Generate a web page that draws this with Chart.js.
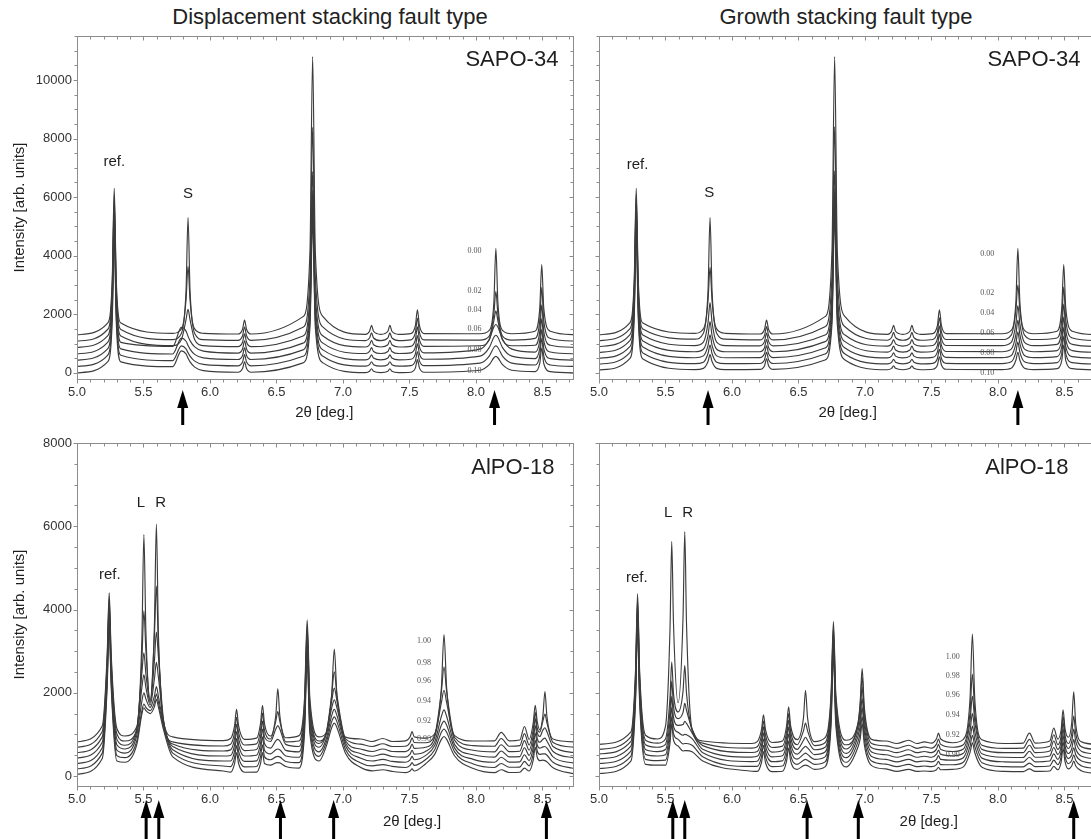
<!DOCTYPE html>
<html>
<head>
<meta charset="utf-8">
<script src="https://cdn.jsdelivr.net/npm/chart.js@4.4.1/dist/chart.umd.min.js"></script>
<style>
  html, body { margin: 0; padding: 0; background: #fff; overflow: hidden; width: 1091px; height: 839px; position: relative; }
  canvas { position: absolute; }
  .title { position: absolute; top: 4px; font: 22px 'Liberation Sans', Arial, sans-serif; color: #222; white-space: nowrap; transform: translateX(-50%); }
</style>
</head>
<body>
<div class="title" style="left:330px">Displacement stacking fault type</div>
<div class="title" style="left:846px">Growth stacking fault type</div>
<canvas id="tl" width="590" height="432" style="left:0;top:0"></canvas>
<canvas id="tr" width="526" height="432" style="left:574px;top:0"></canvas>
<canvas id="bl" width="590" height="429" style="left:0;top:410px"></canvas>
<canvas id="br" width="526" height="429" style="left:574px;top:410px"></canvas>
<script>
// ---- data (2theta in deg, intensity in arb. units, each curve above its own baseline) ----
const xTicks = [5.0, 5.5, 6.0, 6.5, 7.0, 7.5, 8.0, 8.5];
const sapoYTicks = [0, 2000, 4000, 6000, 8000, 10000];
const alpoYTicks = [0, 2000, 4000, 6000, 8000];

const sapoLabels = ['0.00', '0.02', '0.04', '0.06', '0.08', '0.10'];
const alpoLabels = ['1.00', '0.98', '0.96', '0.94', '0.92', '0.90'];

// SAPO-34
const sapoX = [5.00, 5.23, 5.265, 5.28, 5.295, 5.33, 5.72, 5.785, 5.82, 5.835, 5.85, 5.885, 5.95,
  6.21, 6.245, 6.26, 6.275, 6.31, 6.70, 6.752, 6.772, 6.792, 6.85, 7.17, 7.20, 7.215, 7.23, 7.285,
  7.338, 7.353, 7.368, 7.42, 7.51, 7.545, 7.56, 7.575, 7.61, 8.03, 8.10, 8.135, 8.15, 8.165, 8.20, 8.27,
  8.445, 8.48, 8.495, 8.51, 8.56, 8.75];

const sapoDispBase = [1300, 1085, 870, 650, 435, 220, 0];
const sapoDisp1 = [0, 400,1900,5000,1900,400, 50,200,1520,4000,1520,200,50, 25,190,500,190,25, 620,2850,9500,2850,620, 16,120,320,120,16, 120,320,120,16, 40,320,850,320,40, 35,150,1120,2950,1120,150,35, 120,910,2400,910,120, 0];
const sapoDisp2 = [0, 395,1880,4950,1880,395, 50,255,1400,2550,1400,255,50, 24,180,480,180,24, 475,2190,7300,2190,475, 14,105,280,105,14, 105,280,105,14, 40,300,780,300,40, 34,170,935,1700,935,170,34, 90,700,1830,700,90, 0];
const sapoDisp3 = [0, 390,1860,4900,1860,390, 60,260,950,1300,950,260,60, 23,175,460,175,23, 390,1800,6000,1800,390, 12,90,240,90,12, 90,240,90,12, 35,265,700,265,35, 55,250,910,1250,910,250,55, 72,550,1450,550,72, 0];
const sapoDisp4 = [0, 390,1840,4850,1840,390, 250,900,775,600,450,235,90, 22,165,440,165,22, 365,1680,5600,1680,365, 10,80,210,80,10, 80,210,80,10, 30,235,620,235,30, 160,500,920,1000,920,500,160, 60,455,1200,455,60, 0];
const sapoDisp5 = [0, 385,1820,4800,1820,385, 210,750,645,500,375,195,75, 21,160,420,160,21, 350,1620,5400,1620,350, 9,70,180,70,9, 70,180,70,9, 28,215,560,215,28, 135,425,780,850,780,425,135, 52,400,1050,400,52, 0];
const sapoDisp6 = [0, 380,1800,4750,1800,380, 195,700,600,470,350,180,70, 20,150,400,150,20, 345,1590,5300,1590,345, 8,60,160,60,8, 60,160,60,8, 25,190,500,190,25, 110,350,645,700,645,350,110, 48,360,950,360,48, 0];
const sapoDisp7 = [0, 375,1790,4700,1790,375, 210,750,645,500,375,195,75, 19,145,380,145,19, 340,1560,5200,1560,340, 7,53,140,53,7, 53,140,53,7, 22,170,450,170,22, 90,280,515,560,515,280,90, 42,320,850,320,42, 0];

const sapoGrowBase = [1300, 1100, 900, 700, 500, 300, 100];
const sapoGrow1 = [0, 400,1900,5000,1900,400, 50,200,1520,4000,1520,200,50, 25,190,500,190,25, 620,2850,9500,2850,620, 16,120,320,120,16, 120,320,120,16, 40,320,850,320,40, 35,150,1120,2950,1120,150,35, 120,910,2400,910,120, 0];
const sapoGrow2 = [0, 395,1880,4950,1880,395, 50,250,1375,2500,1375,250,50, 24,180,480,180,24, 475,2190,7300,2190,475, 14,105,280,105,14, 105,280,105,14, 40,300,780,300,40, 38,190,1045,1900,1045,190,38, 90,700,1830,700,90, 0];
const sapoGrow3 = [0, 390,1860,4900,1860,390, 30,150,825,1500,825,150,30, 23,175,460,175,23, 390,1800,6000,1800,390, 12,90,240,90,12, 90,240,90,12, 35,265,700,265,35, 28,140,770,1400,770,140,28, 72,550,1450,550,72, 0];
const sapoGrow4 = [0, 390,1840,4850,1840,390, 21,105,580,1050,580,105,21, 22,165,440,165,22, 365,1680,5600,1680,365, 10,80,210,80,10, 80,210,80,10, 30,235,620,235,30, 22,110,605,1100,605,110,22, 60,455,1200,455,60, 0];
const sapoGrow5 = [0, 385,1820,4800,1820,385, 16,80,440,800,440,80,16, 21,160,420,160,21, 350,1620,5400,1620,350, 9,70,180,70,9, 70,180,70,9, 28,215,560,215,28, 18,90,495,900,495,90,18, 52,400,1050,400,52, 0];
const sapoGrow6 = [0, 380,1800,4750,1800,380, 13,65,360,650,360,65,13, 20,150,400,150,20, 345,1590,5300,1590,345, 8,60,160,60,8, 60,160,60,8, 25,190,500,190,25, 15,75,410,750,410,75,15, 48,360,950,360,48, 0];
const sapoGrow7 = [0, 375,1790,4700,1790,375, 10,52,285,520,285,52,10, 19,145,380,145,19, 340,1560,5200,1560,340, 7,53,140,53,7, 53,140,53,7, 22,170,450,170,22, 12,60,330,600,330,60,12, 42,320,850,320,42, 0];

// AlPO-18, displacement
const alpoDispX = [5.00, 5.19, 5.227, 5.242, 5.257, 5.30, 5.36, 5.45, 5.488, 5.503,
  5.518, 5.55, 5.582, 5.597, 5.612, 5.65, 5.72, 6.10, 6.155, 6.185,
  6.20, 6.215, 6.26, 6.35, 6.38, 6.395, 6.41, 6.455, 6.495, 6.51,
  6.525, 6.57, 6.67, 6.711, 6.731, 6.751, 6.82, 6.875, 6.915, 6.935,
  6.955, 7.02, 7.13, 7.22, 7.30, 7.37, 7.47, 7.505, 7.52, 7.535,
  7.62, 7.69, 7.74, 7.76, 7.78, 7.84, 7.98, 8.14, 8.19, 8.25,
  8.33, 8.365, 8.40, 8.431, 8.446, 8.461, 8.48, 8.504, 8.519, 8.534,
  8.58, 8.75];
const alpoDispBase = [820, 690, 560, 430, 300, 170, 40];
const alpoDisp1 = [0,380,2110,3580,2110,320,140,370,2490,4980, 2670,1000,2790,5230,2615,480,120,30,80,390, 780,390,60,90,440,880,440,140,640,1280, 640,100,150,1050,2930,1050,120,220,1115,2230, 1115,115,70,10,80,10,25,125,250,125, 90,195,1290,2580,1290,150,20,25,230,25, 45,370,60,460,880,490,290,640,1210,610, 70,0];
const alpoDisp2 = [0,380,2110,3580,2110,320,150,410,2100,3280, 2330,1100,2680,3870,2480,540,130,30,72,360, 720,360,55,82,410,820,410,200,630,860, 630,130,150,1040,2900,1040,150,360,1250,1810, 1250,200,75,20,85,20,25,115,230,115, 110,300,1330,1930,1330,235,40,25,210,25, 40,330,55,430,840,460,365,635,800,585, 115,0];
const alpoDisp3 = [0,380,2110,3580,2110,320,180,580,1920,2400, 1900,1200,2200,2900,2320,800,210,40,68,340, 680,340,50,76,380,760,380,270,570,650, 570,200,150,1030,2870,1030,220,480,1240,1550, 1240,280,90,30,90,30,25,105,210,105, 130,370,1200,1500,1200,300,60,20,190,25, 35,290,60,420,820,480,390,545,600,505, 150,0];
const alpoDisp4 = [0,380,2110,3580,2110,320,220,650,1700,2000, 1700,1280,1900,2300,1950,900,280,50,64,320, 640,320,50,70,350,700,350,240,415,450, 415,185,150,1020,2840,1020,260,575,1200,1400, 1200,360,110,45,95,40,25,95,190,95, 160,390,1000,1160,1000,325,80,25,170,30, 35,250,65,400,780,470,380,455,480,410, 160,0];
const alpoDisp5 = [0,380,2110,3580,2110,320,250,680,1500,1700, 1550,1350,1620,1850,1620,950,330,60,60,300, 600,300,50,64,320,640,320,230,330,350, 330,180,150,1010,2810,1010,280,600,1150,1300, 1150,420,130,60,100,50,30,90,170,90, 190,430,920,1020,920,370,100,30,150,35, 40,210,70,380,730,450,370,400,410,370, 160,0];
const alpoDisp6 = [0,380,2110,3580,2110,320,270,680,1400,1560, 1480,1400,1600,1800,1600,1020,380,70,56,280, 560,280,50,58,290,580,290,220,290,300, 290,180,150,1000,2780,1000,300,640,1130,1250, 1130,460,150,75,105,60,35,85,150,85, 220,460,880,960,880,410,120,35,130,40, 45,180,75,360,690,430,350,360,360,330, 160,0];
const alpoDisp7 = [0,380,2110,3580,2110,320,290,720,1450,1600, 1530,1460,1620,1800,1620,1080,420,80,52,260, 520,260,50,52,260,520,260,220,275,280, 275,190,150,990,2750,990,320,680,1120,1230, 1120,500,170,85,110,70,40,80,130,80, 250,480,840,910,840,440,140,40,110,45, 50,150,80,340,650,410,330,340,330,300, 160,0];

// AlPO-18, growth
const alpoGrowX = [5.00, 5.24, 5.275, 5.29, 5.305, 5.35, 5.44, 5.50, 5.534, 5.547,
  5.56, 5.595, 5.632, 5.645, 5.658, 5.70, 5.78, 6.15, 6.19, 6.222,
  6.237, 6.252, 6.30, 6.38, 6.411, 6.426, 6.441, 6.49, 6.538, 6.553,
  6.568, 6.62, 6.70, 6.745, 6.763, 6.781, 6.86, 6.947, 6.964, 6.979,
  6.995, 7.05, 7.158, 7.24, 7.329, 7.39, 7.447, 7.50, 7.538, 7.553,
  7.568, 7.66, 7.74, 7.79, 7.808, 7.826, 7.88, 8.05, 8.19, 8.237,
  8.28, 8.39, 8.42, 8.45, 8.475, 8.49, 8.505, 8.53, 8.555, 8.57,
  8.585, 8.63, 8.75];
const alpoGrowBase = [760, 640, 530, 415, 300, 180, 60];
const alpoGrow1 = [0,300,1810,3620,1810,220,130,440,2780,4875, 2930,1000,3060,5110,2910,360,80,20,65,355, 710,355,45,80,450,905,450,115,650,1300, 650,65,160,1210,2950,1210,100,500,1000,1820, 900,120,80,20,100,20,60,30,135,270, 135,40,120,1090,2650,1090,110,20,30,270, 30,80,390,125,345,830,365,170,520,1260, 490,60,0];
const alpoGrow2 = [0,300,1800,3600,1800,220,150,250,1250,2100, 1350,900,1400,2020,1350,450,150,30,62,340, 680,340,45,78,430,860,430,110,450,630, 450,90,160,1200,2930,1200,110,600,1050,1740, 900,140,85,25,100,25,60,30,125,250, 125,50,110,880,1800,880,100,25,30,240, 30,75,350,115,320,800,330,140,380,800, 380,60,0];
const alpoGrow3 = [0,300,1790,3580,1790,220,160,230,1050,1750, 1150,850,1000,1215,1050,600,200,35,60,325, 650,325,45,75,405,810,405,110,330,400, 330,100,160,1190,2900,1190,120,650,1000,1600, 850,150,90,30,100,30,60,30,115,230, 115,60,120,780,1390,780,110,30,30,210, 30,70,310,110,310,760,320,130,300,600, 300,60,0];
const alpoGrow4 = [0,300,1780,3560,1780,220,170,220,900,1500, 1000,800,820,900,850,620,230,40,58,310, 620,310,45,70,380,760,380,110,260,300, 260,100,160,1180,2880,1180,130,650,950,1450, 800,160,95,35,100,35,60,35,110,210, 110,70,130,660,1090,660,120,35,30,180, 35,65,270,105,300,720,310,125,240,460, 240,60,0];
const alpoGrow5 = [0,300,1770,3540,1770,220,180,210,820,1350, 900,750,680,700,690,600,260,45,55,295, 590,295,45,65,355,710,355,105,220,250, 220,100,160,1170,2860,1170,140,650,900,1350, 760,170,100,40,100,40,60,40,100,190, 100,80,140,580,900,580,130,40,35,150, 40,60,230,100,290,680,300,120,210,380, 210,60,0];
const alpoGrow6 = [0,300,1760,3520,1760,220,190,200,760,1250, 840,700,590,600,600,560,280,50,52,280, 560,280,45,60,330,660,330,100,200,220, 200,100,160,1160,2840,1160,150,640,860,1250, 720,180,105,45,100,45,60,45,95,170, 95,90,150,530,800,530,140,45,40,130, 45,60,200,95,280,640,290,115,190,330, 190,60,0];
const alpoGrow7 = [0,300,1750,3500,1750,220,200,200,730,1200, 800,660,540,550,550,520,300,55,50,265, 530,265,45,55,305,610,305,100,190,200, 190,100,160,1150,2820,1150,160,630,830,1200, 700,190,110,50,100,50,60,50,90,150, 90,100,160,500,740,500,150,50,45,110, 50,60,170,90,270,600,280,110,180,300, 180,60,0];

// marked reflections (arrows under the axis)
const arrowsSapoDisp = [5.795, 8.14];
const arrowsSapoGrow = [5.82, 8.15];
const arrowsAlpoDisp = [5.52, 5.615, 6.53, 6.93, 8.53];
const arrowsAlpoGrow = [5.555, 5.645, 6.565, 6.95, 8.57];

// ---- drawing ----
Chart.defaults.font.family = "'Liberation Sans', Arial, sans-serif";
Chart.defaults.color = '#333';
const FONT = "'Liberation Sans', Arial, sans-serif";

const decor = {
  id: 'decor',
  afterDraw(chart, args, o) {
    const ctx = chart.ctx, a = chart.chartArea;
    const sx = chart.scales.x, sy = chart.scales.y;
    ctx.save();

    // frame with small ticks on all four sides
    ctx.strokeStyle = '#8c8c8c';
    ctx.lineWidth = 1;
    const L = Math.round(a.left) + 0.5, R = Math.round(a.right) + 0.5;
    const T = Math.round(a.top) + 0.5, B = Math.round(a.bottom) + 0.5;
    ctx.strokeRect(L, T, R - L, B - T);
    ctx.beginPath();
    for (let i = 50; i <= 87; i++) {
      const px = Math.round(sx.getPixelForValue(i / 10)) + 0.5;
      const len = i % 5 === 0 ? 4 : 3;
      ctx.moveTo(px, B); ctx.lineTo(px, B + len);
      ctx.moveTo(px, T); ctx.lineTo(px, T + len);
    }
    for (let v = 0; v <= sy.max; v += 500) {
      const py = Math.round(sy.getPixelForValue(v)) + 0.5;
      const len = v % 2000 === 0 ? 4 : 3;
      ctx.moveTo(L, py); ctx.lineTo(L - len, py);
      ctx.moveTo(R, py); ctx.lineTo(R - len, py);
    }
    ctx.stroke();

    ctx.textBaseline = 'middle';
    ctx.fillStyle = '#1e1e1e';

    // panel name
    ctx.font = '22px ' + FONT;
    ctx.textAlign = 'right';
    ctx.fillText(o.panel, sx.getPixelForValue(o.panelX), sy.getPixelForValue(o.panelY));

    // peak names
    ctx.font = '15px ' + FONT;
    ctx.textAlign = 'center';
    o.peaks.forEach(p => ctx.fillText(p.t, sx.getPixelForValue(p.x), sy.getPixelForValue(p.y)));

    // curve labels
    ctx.font = "8px 'Liberation Serif', serif";
    ctx.fillStyle = '#555';
    o.curveText.forEach((t, i) => ctx.fillText(t, sx.getPixelForValue(o.curveX), sy.getPixelForValue(o.curveY[i])));

    // x axis title
    ctx.font = '15px ' + FONT;
    ctx.fillStyle = '#1e1e1e';
    ctx.fillText('2\u03b8 [deg.]', sx.getPixelForValue(o.xTitleX), o.xTitleY);

    // arrows
    ctx.fillStyle = '#000';
    o.arrows.forEach(v => {
      const px = sx.getPixelForValue(v);
      ctx.beginPath();
      ctx.moveTo(px, o.arrowTop);
      ctx.lineTo(px - 5.5, o.arrowTop + 18);
      ctx.lineTo(px + 5.5, o.arrowTop + 18);
      ctx.closePath();
      ctx.fill();
      ctx.fillRect(px - 1.5, o.arrowTop + 17, 3, o.arrowBottom - o.arrowTop - 17);
    });

    // y axis title
    if (o.yTitle) {
      ctx.fillStyle = '#1e1e1e';
      ctx.font = '15px ' + FONT;
      ctx.translate(20, (a.top + a.bottom) / 2);
      ctx.rotate(-Math.PI / 2);
      ctx.fillText('Intensity [arb. units]', 0, 0);
    }
    ctx.restore();
  }
};

function panel(id, xs, base, curves, yMin, yMax, yTicks, showY, padTop, padRight, yWidth, deco) {
  return new Chart(document.getElementById(id), {
    type: 'line',
    data: {
      datasets: curves.map((c, i) => ({
        data: xs.map((x, j) => ({ x: x, y: base[i] + c[j] })),
        borderColor: '#3c3c3c',
        borderWidth: 1.15,
        pointRadius: 0,
        fill: false,
        cubicInterpolationMode: 'monotone'
      }))
    },
    options: {
      responsive: false,
      animation: false,
      layout: { padding: { top: padTop, right: padRight, left: 0, bottom: 0 } },
      plugins: { legend: { display: false }, tooltip: { enabled: false }, decor: deco },
      scales: {
        x: {
          type: 'linear', min: 5, max: 8.73,
          afterBuildTicks: s => { s.ticks = xTicks.map(v => ({ value: v })); },
          afterFit: s => { s.height = 53; },
          grid: { display: false, drawTicks: false },
          border: { display: false },
          ticks: { padding: 6, maxRotation: 0, autoSkip: false, font: { size: 13 }, color: '#333',
                   callback: v => Number(v).toFixed(1) }
        },
        y: {
          type: 'linear', min: yMin, max: yMax,
          afterBuildTicks: s => { s.ticks = yTicks.map(v => ({ value: v })); },
          afterFit: s => { s.width = yWidth; },
          grid: { display: false, drawTicks: false },
          border: { display: false },
          ticks: { display: showY, padding: 5, font: { size: 13 }, color: '#333',
                   callback: v => String(v) }
        }
      }
    },
    plugins: [decor]
  });
}

panel('tl', sapoX, sapoDispBase,
  [sapoDisp1, sapoDisp2, sapoDisp3, sapoDisp4, sapoDisp5, sapoDisp6, sapoDisp7],
  -210, 11500, sapoYTicks, true, 36, 17, 77, {
    panel: 'SAPO-34', panelX: 8.62, panelY: 10680,
    peaks: [{ t: 'ref.', x: 5.28, y: 7200 }, { t: 'S', x: 5.835, y: 6100 }],
    curveText: sapoLabels, curveX: 7.99, curveY: [4150, 2800, 2150, 1500, 780, 80],
    xTitleX: 6.86, xTitleY: 413, arrows: arrowsSapoDisp, arrowTop: 390, arrowBottom: 425, yTitle: true
  });

panel('tr', sapoX, sapoGrowBase,
  [sapoGrow1, sapoGrow2, sapoGrow3, sapoGrow4, sapoGrow5, sapoGrow6, sapoGrow7],
  -210, 11500, sapoYTicks, false, 36, 5, 25, {
    panel: 'SAPO-34', panelX: 8.62, panelY: 10680,
    peaks: [{ t: 'ref.', x: 5.29, y: 7100 }, { t: 'S', x: 5.83, y: 6150 }],
    curveText: sapoLabels, curveX: 7.92, curveY: [4050, 2720, 2050, 1350, 680, 0],
    xTitleX: 6.87, xTitleY: 413, arrows: arrowsSapoGrow, arrowTop: 390, arrowBottom: 425, yTitle: false
  });

panel('bl', alpoDispX, alpoDispBase,
  [alpoDisp1, alpoDisp2, alpoDisp3, alpoDisp4, alpoDisp5, alpoDisp6, alpoDisp7],
  -240, 8000, alpoYTicks, true, 33, 17, 77, {
    panel: 'AlPO-18', panelX: 8.59, panelY: 7390,
    peaks: [{ t: 'ref.', x: 5.247, y: 4840 }, { t: 'L', x: 5.48, y: 6550 }, { t: 'R', x: 5.63, y: 6550 }],
    curveText: alpoLabels, curveX: 7.61, curveY: [3240, 2720, 2280, 1800, 1333, 890],
    xTitleX: 7.52, xTitleY: 412, arrows: arrowsAlpoDisp, arrowTop: 390, arrowBottom: 429, yTitle: true
  });

panel('br', alpoGrowX, alpoGrowBase,
  [alpoGrow1, alpoGrow2, alpoGrow3, alpoGrow4, alpoGrow5, alpoGrow6, alpoGrow7],
  -240, 8000, alpoYTicks, false, 33, 5, 25, {
    panel: 'AlPO-18', panelX: 8.53, panelY: 7390,
    peaks: [{ t: 'ref.', x: 5.284, y: 4760 }, { t: 'L', x: 5.52, y: 6325 }, { t: 'R', x: 5.666, y: 6325 }],
    curveText: alpoLabels, curveX: 7.66, curveY: [2870, 2410, 1940, 1470, 990, 515],
    xTitleX: 7.48, xTitleY: 412, arrows: arrowsAlpoGrow, arrowTop: 390, arrowBottom: 429, yTitle: false
  });
</script>
</body>
</html>
